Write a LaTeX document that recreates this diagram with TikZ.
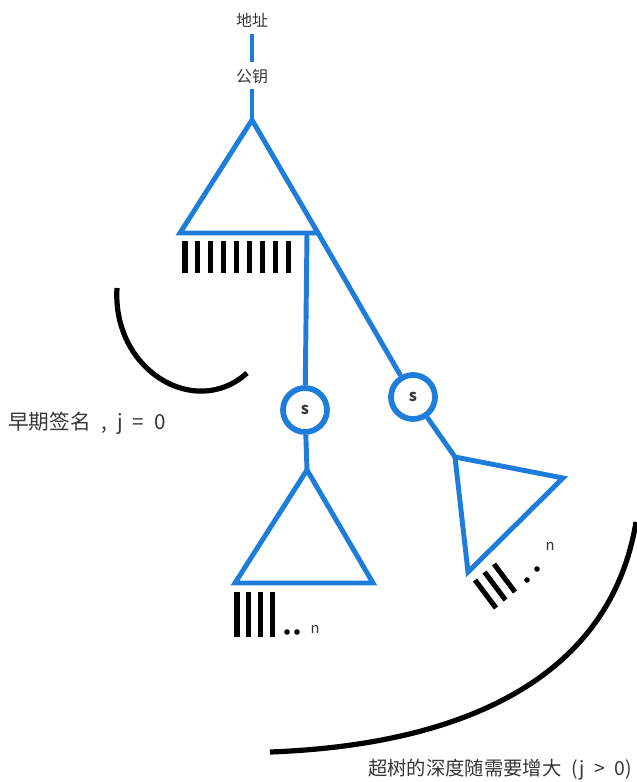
\documentclass[tikz,border=0pt]{standalone}
\usepackage{fontspec}
\setmainfont{Noto Sans CJK SC}
\newfontfamily\capfont[WordSpace=2.2]{Noto Sans CJK SC}
\usepackage{xcolor}
\definecolor{tblue}{HTML}{1E7DDA}
\definecolor{ink}{HTML}{363636}
\usetikzlibrary{positioning,calc}
\tikzset{
  edge/.style={draw=tblue,line width=3.7pt},
  tri/.style={draw=tblue,line width=3.7pt,line join=miter},
  sig/.style={circle,draw=tblue,line width=4.3pt,minimum size=33pt,inner sep=0pt,font=\fontsize{12}{14}\selectfont\bfseries,text=ink},
  bar/.style={draw=black,line width=3.8pt},
  arcline/.style={draw=black,line width=3.9pt},
  lab/.style={font=\fontsize{12}{14}\selectfont,text=ink,inner sep=2pt},
  note/.style={font=\capfont\fontsize{14.5}{16}\selectfont,text=ink,inner sep=0pt},
}
\begin{document}
\begin{tikzpicture}[x=0.75pt,y=-0.75pt]
\useasboundingbox (0,0) rectangle (636,782);
% key and top tree
\node[lab] (addr) at (252,20) {地址};
\node[lab] (pk) at (252,76) {公钥};
\coordinate (t1) at (252,120); \coordinate (t1l) at (180,233); \coordinate (t1r) at (318,233);
\coordinate (t1b) at (307,233);
\draw[edge,shorten <=3pt,shorten >=3pt] (addr) -- (pk);
\draw[edge,shorten <=2pt] (pk) -- (t1);
\draw[tri] (t1) -- (t1l) -- (t1r) -- cycle;
\foreach \i in {0,...,8} \draw[bar] (185+12.9*\i,241) -- (185+12.9*\i,273);
% signatures
\node[sig] (s1) at (305,410) {s};
\node[sig] (s2) at (413,397) {s};
\draw[edge] (t1b) -- (s1); \draw[edge] (t1r) -- (s2);
% lower trees
\coordinate (t2) at (307,470); \coordinate (t2l) at (235,583); \coordinate (t2r) at (373,583);
\draw[edge] (s1) -- (t2);
\draw[tri] (t2) -- (t2l) -- (t2r) -- cycle;
\foreach \i in {0,...,3} \draw[bar] (237+11.7*\i,592) -- (237+11.7*\i,637);
\fill (287,632) circle (2.8) (297,632) circle (2.8);
\node[lab,inner sep=0pt,font=\fontsize{11}{12}\selectfont] (n1) at (315,629) {n};
\coordinate (t3) at (455,457); \coordinate (t3r) at (563,478); \coordinate (t3b) at (468,572);
\draw[edge] (s2) -- (t3);
\draw[tri] (t3) -- (t3r) -- (t3b) -- cycle;
\foreach \i in {0,...,2} \draw[bar] (475+9.5*\i,580-8*\i) -- (496+9.5*\i,608-8*\i);
\fill (527,580) circle (2.8) (537,569) circle (2.8);
\node[lab,inner sep=0pt,font=\fontsize{11}{12}\selectfont] (n2) at (550,546) {n};
% arcs and captions
\draw[arcline] (117,288) .. controls (112,370) and (195,420) .. (247,373);
\draw[arcline] (636,522) .. controls (610,680) and (460,745) .. (270,752);
\node[note,anchor=west,font=\capfont\fontsize{15.5}{17}\selectfont] (early) at (8,423) {早期签名 , j = 0};
\node[note,anchor=east] (deep) at (632,770) {超树的深度随需要增大 (j > 0)};
\end{tikzpicture}
\end{document}
